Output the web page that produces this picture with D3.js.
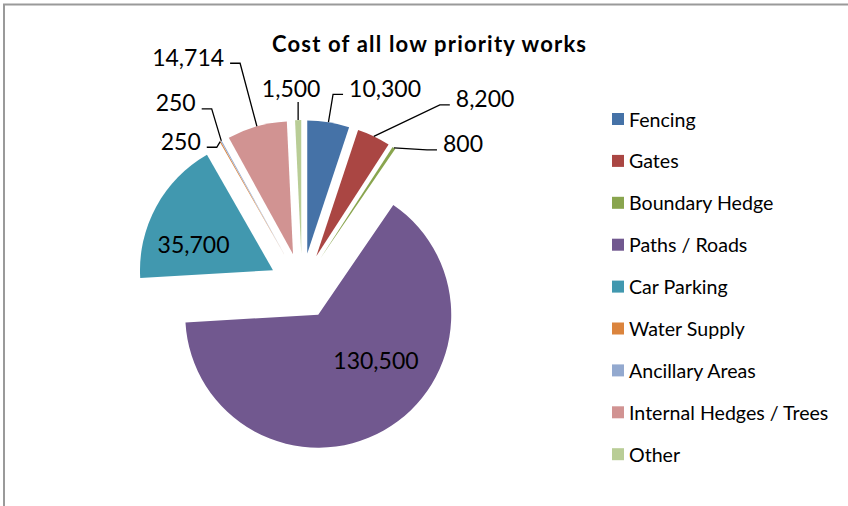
<!DOCTYPE html>
<html>
<head>
<meta charset="utf-8">
<script src="https://cdn.jsdelivr.net/npm/d3@7"></script>
<style>
  html, body { margin: 0; padding: 0; background: #fff; }
  svg { display: block; }
</style>
</head>
<body>
<svg id="chart" width="848" height="506"></svg>
<script>
// ---- data ----
const chartTitle = "Cost of all low priority works";
const categories = ["Fencing", "Gates", "Boundary Hedge", "Paths / Roads", "Car Parking",
                    "Water Supply", "Ancillary Areas", "Internal Hedges / Trees", "Other"];
const costs = [10300, 8200, 800, 130500, 35700, 250, 250, 14714, 1500];
const sliceColors = ["#4572A7", "#AA4643", "#89A54E", "#71588F", "#4198AF",
                     "#DB843D", "#93A9CF", "#D19392", "#B9CD96"];

// ---- layout ----
const W = 848, H = 506;
const cx = 302, cy = 286, radius = 133, explode = 33;
const FONT = "Lato, 'Open Sans', sans-serif";

// how each value label sits: inside labels are nudged from the slice centroid,
// outside labels bend at a knee (offset from the slice's outer edge) and run level to the text
const labelPlacement = [
  { mode: "right", kx: 4.6,  ky: -27.8 },
  { mode: "right", kx: 66,   ky: -31.4 },
  { mode: "right", kx: 33,   ky: 2 },
  { mode: "inside", dx: 25,  dy: -12 },
  { mode: "inside", dx: -21, dy: 6 },
  { mode: "left",  kx: -3.4, ky: 5.7 },
  { mode: "left",  kx: -9.6, ky: -32 },
  { mode: "left",  kx: -16.8, ky: -63 },
  { mode: "top",   kx: 0,    ky: -18, tdx: -7 }
];

const svg = d3.select("#chart");
const fmt = d3.format(",");

// chart area frame
svg.append("rect")
  .attr("x", 4).attr("y", 4.5)
  .attr("width", W + 20).attr("height", H + 20)
  .attr("fill", "#fff")
  .attr("stroke", "#9a9a9a")
  .attr("stroke-width", 2);

// title
svg.append("text")
  .attr("x", 429).attr("y", 52)
  .attr("text-anchor", "middle")
  .attr("font-family", FONT)
  .attr("font-weight", "bold")
  .attr("font-size", 22)
  .attr("textLength", 314)
  .attr("lengthAdjust", "spacing")
  .attr("fill", "#000")
  .text(chartTitle);

// pie
const pie = d3.pie().sort(null).value(d => d).startAngle(0).endAngle(2 * Math.PI);
const arcs = pie(costs);
const arc = d3.arc().innerRadius(0).outerRadius(radius);

const dir = a => [Math.sin(a), -Math.cos(a)];

const g = svg.append("g").attr("transform", `translate(${cx},${cy})`);

const slices = g.selectAll("g.slice")
  .data(arcs)
  .enter().append("g")
  .attr("class", "slice")
  .attr("transform", d => {
    const m = (d.startAngle + d.endAngle) / 2;
    const [ux, uy] = dir(m);
    return `translate(${ux * explode},${uy * explode})`;
  });

slices.append("path")
  .attr("d", arc)
  .attr("fill", (d, i) => sliceColors[i]);

// value labels
const labelSize = 23;
const labels = g.append("g");
arcs.forEach((d, i) => {
  const p = labelPlacement[i];
  const m = (d.startAngle + d.endAngle) / 2;
  const [ux, uy] = dir(m);
  const txt = fmt(costs[i]);
  if (p.mode === "inside") {
    const [gx, gy] = arc.centroid(d);
    const x = gx + ux * explode + p.dx;
    const y = gy + uy * explode + p.dy;
    labels.append("text")
      .attr("x", x).attr("y", y + 8)
      .attr("text-anchor", "middle")
      .attr("font-family", FONT)
      .attr("font-size", labelSize)
      .attr("fill", "#000")
      .text(txt);
    return;
  }
  const ex = ux * (radius + explode), ey = uy * (radius + explode);
  const kx = ex + p.kx, ky = ey + p.ky;
  let pts, tx, ty, anchor;
  if (p.mode === "top") {
    pts = [[ex, ey], [kx, ky]];
    tx = kx + (p.tdx || 0); ty = ky - 5; anchor = "middle";
  } else {
    const s = p.mode === "right" ? 1 : -1;
    pts = [[ex, ey], [kx, ky], [kx + s * 10, ky]];
    tx = kx + s * 16; ty = ky + 2.5; anchor = s > 0 ? "start" : "end";
  }
  labels.append("path")
    .attr("d", d3.line()(pts))
    .attr("fill", "none")
    .attr("stroke", "#000")
    .attr("stroke-width", 1.3);
  labels.append("text")
    .attr("x", tx).attr("y", ty)
    .attr("text-anchor", anchor)
    .attr("font-family", FONT)
    .attr("font-size", labelSize)
    .attr("fill", "#000")
    .text(txt);
});

// legend
const legend = svg.append("g").attr("transform", "translate(612,113)");
const items = legend.selectAll("g")
  .data(categories)
  .enter().append("g")
  .attr("transform", (d, i) => `translate(0,${i * 41.9})`);
items.append("rect")
  .attr("width", 12).attr("height", 12)
  .attr("fill", (d, i) => sliceColors[i]);
items.append("text")
  .attr("x", 17).attr("y", 13.5)
  .attr("font-family", FONT)
  .attr("font-size", 19.6)
  .attr("fill", "#000")
  .text(d => d);
</script>
</body>
</html>
